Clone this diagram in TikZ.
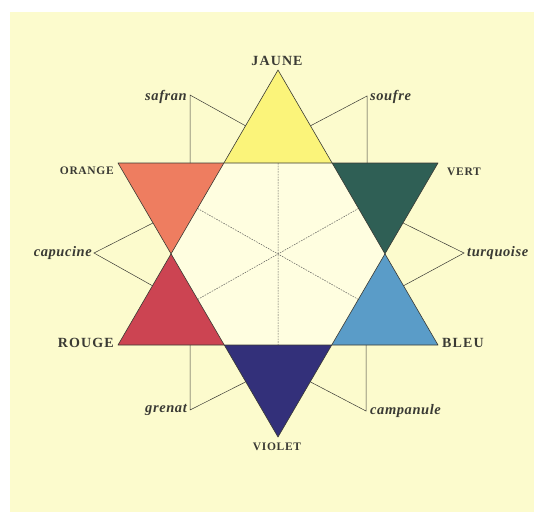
\documentclass[tikz,border=0pt]{standalone}
\usepackage{fontspec}
\usetikzlibrary{calc}
\setmainfont{Liberation Serif}
\newfontfamily\capfont{Liberation Serif}[LetterSpace=8]
\newfontfamily\smcapfont{Liberation Serif}[LetterSpace=6]
\newfontfamily\itfont{Liberation Serif}[LetterSpace=4]
\definecolor{paper}{HTML}{FCFBCD}
\definecolor{hexfill}{HTML}{FFFEE0}
\definecolor{cyellow}{HTML}{FBF47A}
\definecolor{corange}{HTML}{EE7D60}
\definecolor{cred}{HTML}{CC4452}
\definecolor{cviolet}{HTML}{33307A}
\definecolor{cblue}{HTML}{5A9CC8}
\definecolor{cgreen}{HTML}{2F5F55}
\definecolor{ink}{HTML}{3A3A34}
\begin{document}
\begin{tikzpicture}[x=1pt,y=-1pt,
  edge/.style={draw=ink, line width=0.6pt, line join=round},
  leader/.style={draw=ink, line width=0.5pt},
  dashline/.style={draw=ink!80, line width=0.5pt, dash pattern=on 1.6pt off 1.1pt},
  primary/.style={font=\capfont\bfseries\fontsize{14}{14}\selectfont, inner sep=0pt, text=ink},
  secondary/.style={font=\smcapfont\bfseries\fontsize{11.5}{11.5}\selectfont, inner sep=0pt, text=ink},
  tint/.style={font=\itfont\bfseries\itshape\fontsize{14.5}{14.5}\selectfont, inner sep=0pt, text=ink}]
\useasboundingbox (0,0) rectangle (534,512);
\fill[white] (0,0) rectangle (534,512);
\fill[paper] (10,12) rectangle (534,512);
% main vertices
\coordinate (J) at (278,70);
\coordinate (O) at (118,163);
\coordinate (V) at (438,163);
\coordinate (R) at (118,345);
\coordinate (B) at (438,345);
\coordinate (Vi) at (278,437);
% hexagon corners
\coordinate (h1) at (intersection of J--R and O--V);
\coordinate (h2) at (intersection of J--B and O--V);
\coordinate (h3) at (intersection of J--B and V--Vi);
\coordinate (h4) at (intersection of R--B and V--Vi);
\coordinate (h5) at (intersection of R--B and O--Vi);
\coordinate (h6) at (intersection of J--R and O--Vi);
% fills
\fill[hexfill] (h1)--(h2)--(h3)--(h4)--(h5)--(h6)--cycle;
\fill[cyellow] (J)--(h1)--(h2)--cycle;
\fill[corange] (O)--(h1)--(h6)--cycle;
\fill[cred] (R)--(h6)--(h5)--cycle;
\fill[cviolet] (Vi)--(h5)--(h4)--cycle;
\fill[cblue] (B)--(h4)--(h3)--cycle;
\fill[cgreen] (V)--(h3)--(h2)--cycle;
% dashed diameters
\coordinate (m12) at ($(h1)!0.5!(h2)$);
\coordinate (m45) at ($(h4)!0.5!(h5)$);
\coordinate (m61) at ($(h6)!0.5!(h1)$);
\coordinate (m34) at ($(h3)!0.5!(h4)$);
\coordinate (m56) at ($(h5)!0.5!(h6)$);
\coordinate (m23) at ($(h2)!0.5!(h3)$);
\draw[dashline] (m12) -- (m45);
\draw[dashline] (m61) -- (m34);
\draw[dashline] (m56) -- (m23);
% outlines
\draw[edge] (J) -- (R) -- (B) -- cycle;
\draw[edge] (O) -- (V) -- (Vi) -- cycle;
% leader vertices and ends
\coordinate (sa) at (190,95);
\coordinate (saA) at (190,163);
\coordinate (saB) at ($(J)!0.6!(h1)$);
\coordinate (so) at (367,96);
\coordinate (soA) at (367,163);
\coordinate (soB) at ($(J)!0.6!(h2)$);
\coordinate (ca) at (94,253);
\coordinate (caA) at ($(O)!0.66!(h6)$);
\coordinate (caB) at ($(h6)!0.35!(R)$);
\coordinate (tu) at (464,253);
\coordinate (tuA) at ($(V)!0.66!(h3)$);
\coordinate (tuB) at ($(h3)!0.35!(B)$);
\coordinate (gr) at (190,410);
\coordinate (grA) at (190,345);
\coordinate (grB) at ($(h5)!0.4!(Vi)$);
\coordinate (cp) at (366,411);
\coordinate (cpA) at (366,345);
\coordinate (cpB) at ($(h4)!0.4!(Vi)$);
\draw[leader] (saA) -- (sa) -- (saB);
\draw[leader] (soA) -- (so) -- (soB);
\draw[leader] (caA) -- (ca) -- (caB);
\draw[leader] (tuA) -- (tu) -- (tuB);
\draw[leader] (grA) -- (gr) -- (grB);
\draw[leader] (cpA) -- (cp) -- (cpB);
% labels
\node[primary] (jaune) at (277,61) {JAUNE};
\node[primary, anchor=east] (rouge) at (114,343) {ROUGE};
\node[primary, anchor=west] (bleu) at (442,343) {BLEU};
\node[secondary, anchor=east] (orange) at (114,171) {ORANGE};
\node[secondary, anchor=west] (vert) at (447,172) {VERT};
\node[secondary] (violet) at (277,447) {VIOLET};
\node[tint, anchor=east] (safran) at (187,97) {safran};
\node[tint, anchor=west] (soufre) at (370,97) {soufre};
\node[tint, anchor=east] (capucine) at (92,253) {capucine};
\node[tint, anchor=west] (turquoise) at (467,253) {turquoise};
\node[tint, anchor=east] (grenat) at (187,410) {grenat};
\node[tint, anchor=west] (campanule) at (370,411) {campanule};
\end{tikzpicture}
\end{document}
